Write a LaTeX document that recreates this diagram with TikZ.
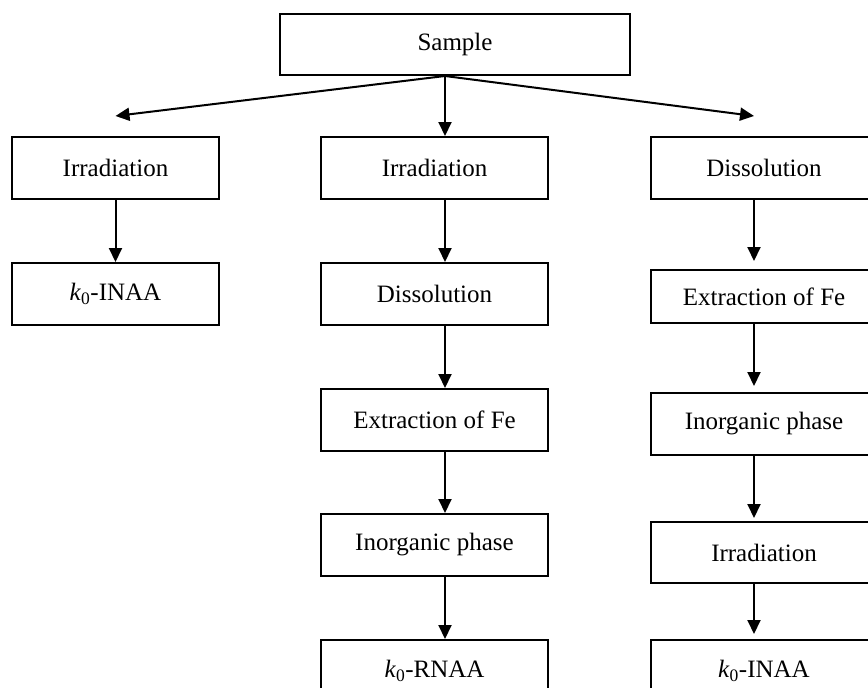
\documentclass[tikz,border=0pt]{standalone}
\usepackage{fontspec}
\setmainfont{Liberation Serif}
\usepackage{tikz}
\usetikzlibrary{arrows.meta, positioning}
\tikzset{
  font=\fontsize{25}{30}\selectfont,
  stepbox/.style={
    rectangle, draw=black, line width=2pt, fill=white,
    minimum height=62pt, align=center, inner sep=2pt
  },
  widebox/.style={stepbox, minimum width=227pt},
  narrowbox/.style={stepbox, minimum width=207pt},
  flowline/.style={
    draw=black, line width=2pt, -{Triangle[length=14pt, width=13pt]}
  }
}

\begin{document}
\begin{tikzpicture}[x=1pt, y=-1pt]

  \useasboundingbox (0,0) rectangle (868,688);
  \clip (0,0) rectangle (868,688);

  % Top: the sample
  \node[stepbox, minimum width=350pt, minimum height=61pt] (sample) at (455,44.5) {Sample};
  \coordinate (fan) at ([xshift=-10pt]sample.south);

  % Column 1: k0-INAA
  \node[narrowbox] (irrA) at (115.5,168) {Irradiation};
  \node[narrowbox, below=62pt of irrA] (inaaA) {\textit{k}\textsubscript{0}-INAA};

  % Column 2: k0-RNAA
  \node[widebox] (irrB) at (434.5,168) {Irradiation};
  \node[widebox, below=62pt of irrB] (disB) {Dissolution};
  \node[widebox, below=62pt of disB] (extB) {Extraction of Fe};
  \node[widebox, below=61pt of extB] (inoB) {Inorganic phase};
  \node[widebox, below=62pt of inoB] (rnaaB) {\textit{k}\textsubscript{0}-RNAA};

  % Column 3: separation before irradiation
  \node[widebox] (disC) at (764,168) {Dissolution};
  \node[widebox, below=69pt of disC, minimum height=53pt] (extC) {Extraction of Fe};
  \node[widebox, below=68pt of extC] (inoC) {Inorganic phase};
  \node[widebox, below=65pt of inoC, minimum height=61pt] (irrC) {Irradiation};
  \node[widebox, below=55pt of irrC] (inaaC) {\textit{k}\textsubscript{0}-INAA};

  % Flows from the sample
  \draw[flowline] (fan) -- ([yshift=20pt]irrA.north);
  \draw[flowline] (fan) -- ([xshift=10.5pt]irrB.north);
  \draw[flowline] (fan) -- ([xshift=-10pt, yshift=20pt]disC.north);

  % Flows down the columns
  \draw[flowline] (irrA) -- (inaaA);
  \foreach \a/\b in {irrB/disB, disB/extB, extB/inoB, inoB/rnaaB}
    \draw[flowline] ([xshift=10.5pt]\a.south) -- ([xshift=10.5pt]\b.north);
  \foreach \a/\b/\g in {disC/extC/8, extC/inoC/6, inoC/irrC/3, irrC/inaaC/5}
    \draw[flowline, shorten >=\g pt] ([xshift=-10pt]\a.south) -- ([xshift=-10pt]\b.north);

\end{tikzpicture}
\end{document}
